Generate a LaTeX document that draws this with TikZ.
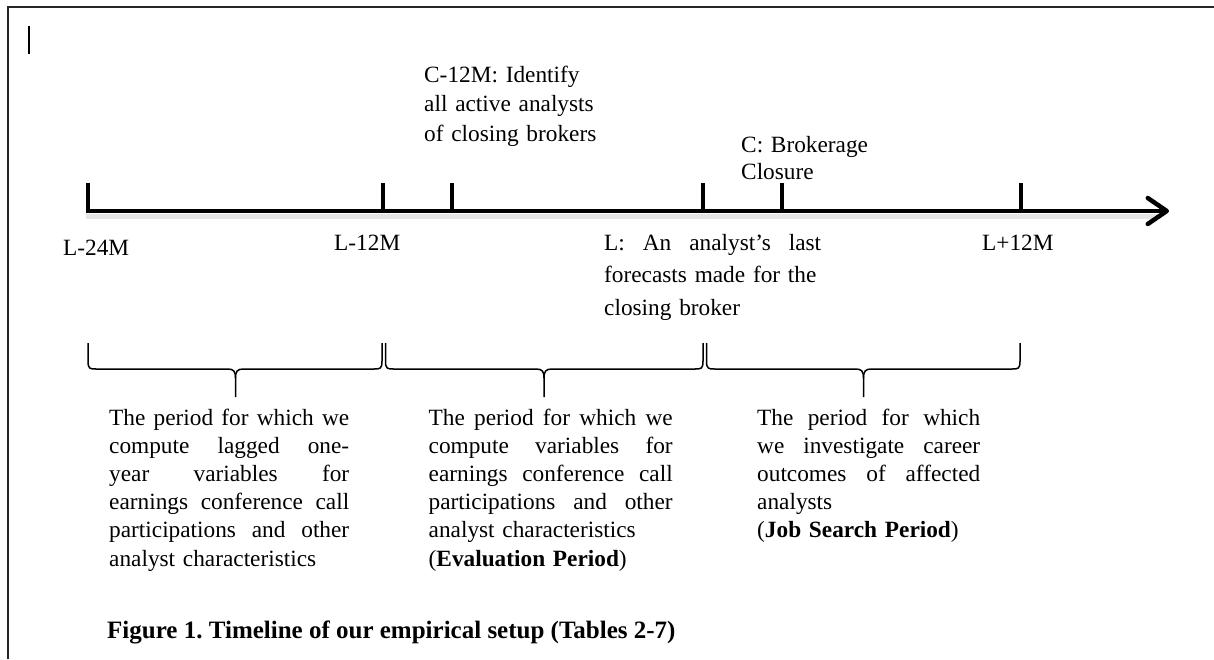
\documentclass[tikz,border=0pt]{standalone}
\usepackage{fontspec}
\setmainfont{Liberation Serif}
\usetikzlibrary{arrows.meta}
\newcommand{\jline}[2]{\leavevmode\hbox to #1{\spaceskip=\fontdimen2\font plus 1fil\relax #2}\\}
\begin{document}
\frenchspacing
\begin{tikzpicture}[x=1pt,y=-1pt,
  txt/.style={font=\fontsize{23.3}{28.2}\selectfont, inner sep=0pt, anchor=base west},
  axisline/.style={line width=4.5pt, black},
  tickline/.style={line width=4.5pt, black, line cap=butt},
  bracepath/.style={line width=1.5pt, black, line join=round},
  frameline/.style={line width=2pt, black!85}
]
\useasboundingbox (0,0) rectangle (1214,659);
% frame
\draw[frameline] (8,659) -- (8,7) -- (1214,7);
\draw[line width=2.5pt] (29,26) -- (29,54);

% axis
\coordinate (axS) at (85.8,211);
\coordinate (axE) at (1169,211);
\draw[line width=5pt, black, opacity=0.10] (86,216) -- (1160,216);
\draw[axisline, -{Straight Barb[length=19pt,width=26pt,round]}] (axS) -- (axE);

% ticks
\foreach \n/\x in {t1/88,t2/383,t3/452,t4/703,t5/782,t6/1021}{
  \coordinate (\n) at (\x,211);
  \draw[tickline] (\x,183) -- (\n);
}

% top labels
\node[txt, text width=220pt, font=\fontsize{23.3}{29.5}\selectfont] (c12) at (424,82)
  {C-12M: Identify\\all active analysts\\of closing brokers};
\node[txt, text width=160pt, font=\fontsize{23.3}{27}\selectfont] (cc) at (741,152)
  {C: Brokerage\\Closure};

% tick labels
\node[txt] (l24) at (63,255) {L-24M};
\node[txt] (l12) at (334,250) {L-12M};
\node[txt] (lp12) at (982,250) {L+12M};
\node[txt, text width=217pt, font=\fontsize{23.3}{32.5}\selectfont] (ll) at (604,250)
  {\jline{217pt}{L: An analyst’s last}\mbox{forecasts made for the}\\closing broker};

% braces
\foreach \a/\m/\b in {88/235.5/382, 385.5/544/703, 706.5/863.5/1020}{
  \draw[bracepath] (\a,343) -- (\a,361) .. controls (\a,369) and (\a+2,369) .. (\a+8,369)
    -- (\m-8,369) .. controls (\m-2,369) and (\m,371) .. (\m,378) -- (\m,397);
  \draw[bracepath] (\m,378) .. controls (\m,371) and (\m+2,369) .. (\m+8,369)
    -- (\b-8,369) .. controls (\b-2,369) and (\b,369) .. (\b,361) -- (\b,343);
}

% period texts
\node[txt, text width=240pt] (p1) at (109,425)
  {\jline{240pt}{The period for which we}\jline{240pt}{compute lagged one-}\jline{240pt}{year variables for}\jline{240pt}{earnings conference call}\jline{240pt}{participations and other}analyst characteristics};
\node[txt, text width=244pt] (p2) at (428.5,425)
  {\jline{244pt}{The period for which we}\jline{244pt}{compute variables for}\jline{244pt}{earnings conference call}\jline{244pt}{participations and other}analyst characteristics\\(\textbf{Evaluation Period})};
\node[txt, text width=223pt] (p3) at (757,425)
  {\jline{223pt}{The period for which}\jline{223pt}{we investigate career}\jline{223pt}{outcomes of affected}analysts\\(\textbf{Job Search Period})};

% caption
\node[txt, font=\fontsize{25}{28}\selectfont\bfseries] (cap) at (107,638)
  {Figure 1. Timeline of our empirical setup (Tables 2-7)};
\end{tikzpicture}
\end{document}
